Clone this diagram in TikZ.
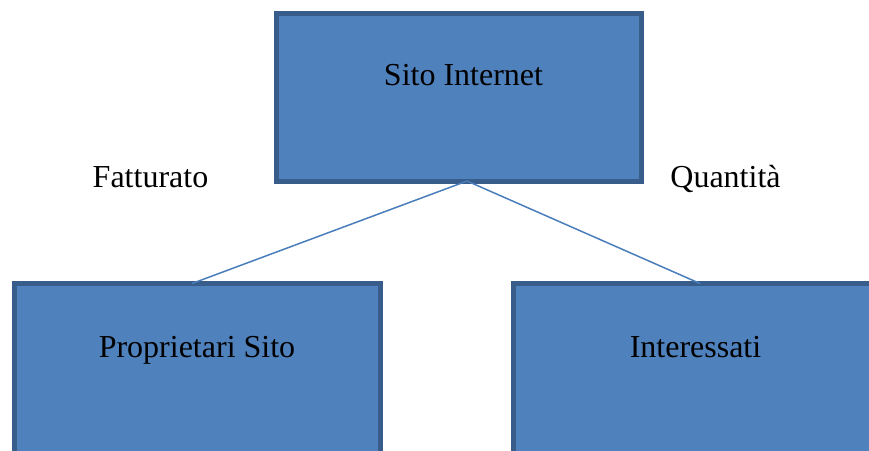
\documentclass[tikz,border=0pt]{standalone}
\usepackage{fontspec}
\setmainfont{Liberation Serif}
\definecolor{boxfill}{HTML}{4F81BD}
\definecolor{boxline}{HTML}{385D8A}
\definecolor{conn}{HTML}{4A7EBB}
\begin{document}
\begin{tikzpicture}[x=1pt,y=-1pt,
  boxnode/.style={draw=boxline,fill=boxfill,line width=5pt,rectangle,inner sep=0pt},
  lbl/.style={font=\fontsize{32}{38}\selectfont,anchor=base,inner sep=0pt},
  connector/.style={draw=conn,line width=1.5pt}]
\useasboundingbox (0,0) rectangle (869,450);
\clip (0,0) rectangle (869,450);
\node[boxnode,minimum width=365pt,minimum height=167.5pt] (top) at (459,97.25) {};
\node[boxnode,minimum width=366pt,minimum height=200pt] (left) at (197.5,383.5) {};
\node[boxnode,minimum width=366pt,minimum height=200pt] (right) at (696.5,383.5) {};
\coordinate (t) at (467,181);
\coordinate (l) at (192,283.5);
\coordinate (r) at (700,283.5);
\draw[connector] (t) -- (l);
\draw[connector] (t) -- (r);
\node[lbl] (tsito) at (463.5,85) {Sito Internet};
\node[lbl] (tfatt) at (150.5,187) {Fatturato};
\node[lbl] (tquant) at (725.5,187) {Quantità};
\node[lbl] (tprop) at (197,357) {Proprietari Sito};
\node[lbl] (tint) at (695.5,357) {Interessati};
\end{tikzpicture}
\end{document}
